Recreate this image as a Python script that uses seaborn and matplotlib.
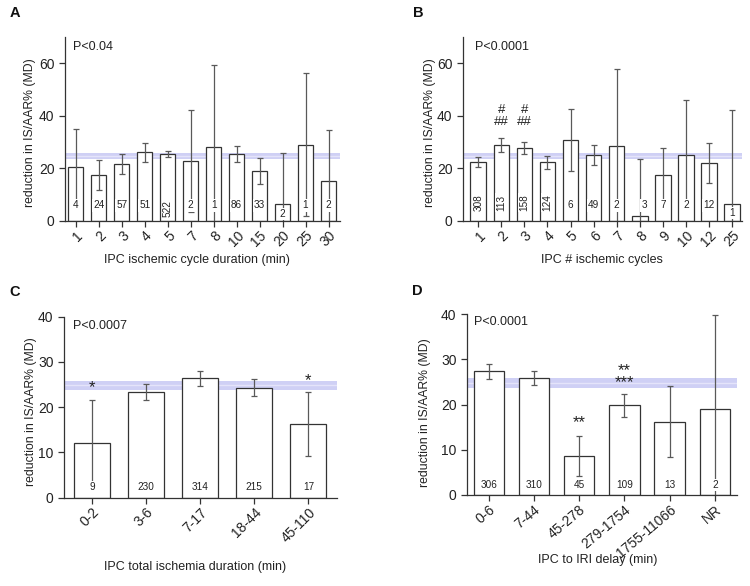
import seaborn as sns
import matplotlib.pyplot as plt
import pandas as pd

# Panel A - ischemic cycle duration
a_cats = ["1", "2", "3", "4", "5", "7", "8", "10", "15", "20", "25", "30"]
a_vals = [20.6, 17.5, 21.6, 26.2, 25.4, 22.9, 28.1, 25.4, 19.0, 6.5, 29.1, 15.2]
a_err = [14.3, 5.7, 3.8, 3.6, 1.2, 19.3, 31.3, 3.1, 5.0, 19.3, 27.1, 19.4]
a_n = ["4", "24", "57", "51", "522", "2", "1", "86", "33", "2", "1", "2"]

# Panel B - number of ischemic cycles
b_cats = ["1", "2", "3", "4", "5", "6", "7", "8", "9", "10", "12", "25"]
b_vals = [22.5, 28.9, 27.8, 22.3, 30.9, 25.1, 28.5, 1.8, 17.5, 25.1, 22.0, 6.5]
b_err = [1.8, 2.6, 2.2, 2.4, 11.8, 3.9, 29.2, 21.7, 10.2, 21.1, 7.6, 35.7]
b_n = ["308", "113", "158", "124", "6", "49", "2", "3", "7", "2", "12", "1"]

# Panel C - total ischemia duration
c_cats = ["0-2", "3-6", "7-17", "18-44", "45-110"]
c_vals = [12.0, 23.4, 26.4, 24.3, 16.3]
c_err = [9.6, 1.8, 1.7, 1.9, 7.0]
c_n = ["9", "230", "314", "215", "17"]

# Panel D - IPC to IRI delay
d_cats = ["0-6", "7-44", "45-278", "279-1754", "1755-11066", "NR"]
d_vals = [27.3, 25.9, 8.7, 19.8, 16.2, 19.1]
d_err = [1.6, 1.5, 4.4, 2.5, 7.9, 20.6]
d_n = ["306", "310", "45", "109", "13", "2"]

sns.set_style("ticks")
plt.rcParams["font.family"] = ["Liberation Sans", "DejaVu Sans"]

W, H = 750, 586
fig = plt.figure(figsize=(7.5, 5.86), dpi=100)

dark = "#333333"
ylab = "reduction in IS/AAR% (MD)"


def px_axes(x0, x1, y0, y1):
    return fig.add_axes([x0 / W, 1 - y1 / H, (x1 - x0) / W, (y1 - y0) / H])


def panel(ax, cats, vals, err, ns, ylim, yticks, xlim, ptext, ptpos,
          xlabel, xlpos, ylpos, rot_n=(), n_y=5.9, rot_y=7.0,
          n_special=None, xrot=45):
    df = pd.DataFrame({"cat": cats, "val": vals})
    ax.axhspan(23.7, 25.9, color="#cfd0f5", zorder=0, lw=0)
    ax.axhline(24.8, color="#e4e4fa", lw=1.0, zorder=0)
    sns.barplot(data=df, x="cat", y="val", order=cats, color="white",
                edgecolor=dark, linewidth=0.9, width=0.67, ax=ax, zorder=1)
    ax.errorbar(range(len(cats)), vals, yerr=err, fmt="none", ecolor="#595959",
                elinewidth=0.9, capsize=2.2, capthick=0.9, zorder=2)
    n_special = n_special or {}
    for i, t in enumerate(ns):
        dx, yy = n_special.get(i, (0, n_y))
        if i in rot_n:
            ax.text(i, rot_y, t, rotation=90, ha="center", va="center",
                    fontsize=7.2, color="#222", zorder=4,
                    bbox=dict(fc="white", ec="none", pad=0.8))
        else:
            ax.text(i + dx, yy, t, ha="center", va="center", fontsize=7.2,
                    color="#222", zorder=4,
                    bbox=dict(fc="white", ec="none", pad=0.8))
    ax.set_ylim(*ylim)
    ax.set_yticks(yticks)
    ax.set_xlim(*xlim)
    ax.set_xticks(range(len(cats)))
    ax.set_xticklabels(cats, rotation=xrot, ha="right", rotation_mode="anchor")
    ax.tick_params(axis="both", labelsize=10, colors="#222", length=4,
                   width=0.9, direction="out", color=dark)
    ax.tick_params(axis="x", pad=1.5)
    for s in ["top", "right"]:
        ax.spines[s].set_visible(False)
    for s in ["left", "bottom"]:
        ax.spines[s].set_color(dark)
        ax.spines[s].set_linewidth(0.9)
    ax.set_xlabel(xlabel, fontsize=9, color="#222", va="center")
    ax.xaxis.set_label_coords(*xlpos)
    ax.set_ylabel(ylab, fontsize=8.8, color="#222", va="center")
    ax.yaxis.set_label_coords(*ylpos)
    ax.text(ptpos[0], ptpos[1], ptext, transform=ax.transAxes, ha="left",
            va="center", fontsize=9, color="#222")


axA = px_axes(65, 340, 37, 221)
panel(axA, a_cats, a_vals, a_err, a_n, (0, 70), [0, 20, 40, 60], (-0.47, 11.5),
      "P<0.04", (0.03, 0.946), "IPC ischemic cycle duration (min)",
      (0.48, -0.212), (-0.127, 0.478), rot_n=(4,), n_y=5.9, rot_y=4.8,
      n_special={9: (0, 2.6)})

axB = px_axes(463, 742, 37, 221)
panel(axB, b_cats, b_vals, b_err, b_n, (0, 70), [0, 20, 40, 60], (-0.66, 11.43),
      "P<0.0001", (0.043, 0.946), "IPC # ischemic cycles",
      (0.497, -0.212), (-0.118, 0.478), rot_n=(0, 1, 2, 3), n_y=5.9,
      rot_y=7.0, n_special={7: (0.2, 5.9), 11: (0, 2.9)})
for i in (1, 2):
    axB.text(i, 40.0, "#\n##", ha="center", va="center", fontsize=9.5,
             color="#222", linespacing=1.05)

axC = px_axes(64, 337, 316.7, 497.7)
panel(axC, c_cats, c_vals, c_err, c_n, (0, 40), [0, 10, 20, 30, 40], (-0.52, 4.53),
      "P<0.0007", (0.033, 0.949), "IPC total ischemia duration (min)",
      (0.48, -0.383), (-0.121, 0.475), n_y=2.3)
axC.text(0, 24.4, "*", ha="center", va="center", fontsize=12, color="#222")
axC.text(4, 25.9, "*", ha="center", va="center", fontsize=12, color="#222")

axD = px_axes(467, 737, 314, 495)
panel(axD, d_cats, d_vals, d_err, d_n, (0, 40), [0, 10, 20, 30, 40], (-0.48, 5.49),
      "P<0.0001", (0.026, 0.957), "IPC to IRI delay (min)",
      (0.485, -0.36), (-0.156, 0.453), n_y=2.2, xrot=40)
axD.text(2, 15.9, "**", ha="center", va="center", fontsize=12, color="#222")
axD.text(3, 26.2, "**\n***", ha="center", va="center", fontsize=12,
         color="#222", linespacing=0.8)

for lbl, (x, y) in zip("ABCD", [(15, 13), (418, 13), (15, 292), (417, 291)]):
    fig.text(x / W, 1 - y / H, lbl, ha="center", va="center", fontsize=10.5,
             fontweight="bold", color="#111")

fig.savefig("out.png", dpi=100, facecolor="white")
